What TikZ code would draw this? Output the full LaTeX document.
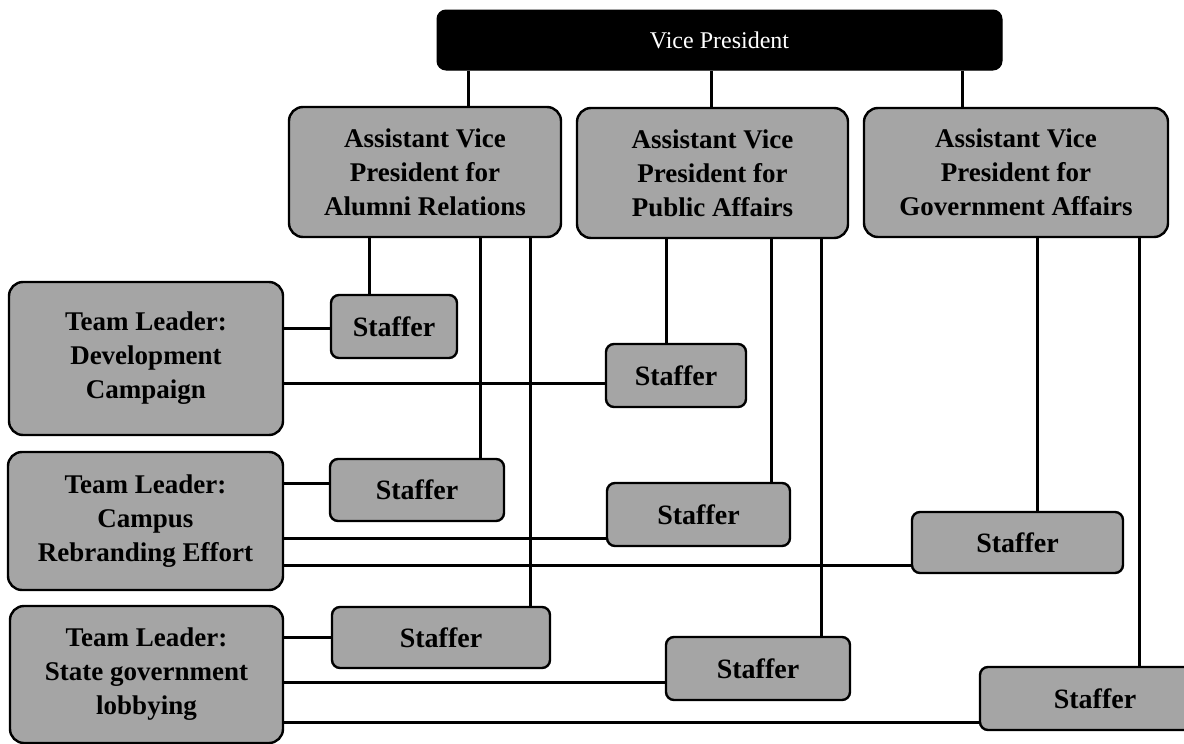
\documentclass[tikz,border=0pt]{standalone}
\usepackage{fontspec}
\setmainfont{Liberation Serif}
\definecolor{boxgray}{RGB}{165,165,165}
\begin{document}
\begin{tikzpicture}[x=1pt,y=-1pt,
  box/.style={draw=black, line width=2.4pt, fill=boxgray, rounded corners=14pt,
    align=center, inner sep=0pt, font=\fontsize{27}{34}\selectfont\bfseries},
  staffbox/.style={box, rounded corners=8pt, font=\fontsize{28}{34}\selectfont\bfseries},
  topbox/.style={draw=black, line width=1pt, fill=black, rounded corners=9pt,
    text=white, inner sep=0pt, font=\fontsize{24}{28}\selectfont},
  link/.style={line width=3pt, draw=black}
]
\useasboundingbox (0,0) rectangle (1184,744);
\clip (0,0) rectangle (1184,744);

% head of the division
\node[topbox, minimum width=565pt, minimum height=60pt] (vp) at (719.5,40) {Vice President};

% assistant vice presidents
\node[box, minimum width=272pt, minimum height=130pt] (avp1) at (425,172)
  {Assistant Vice\\President for\\Alumni Relations};
\node[box, minimum width=271pt, minimum height=130pt] (avp2) at (712.5,173)
  {Assistant Vice\\President for\\Public Affairs};
\node[box, minimum width=304pt, minimum height=129pt] (avp3) at (1016,172.5)
  {Assistant Vice\\President for\\Government Affairs};

% team leaders
\node[box, minimum width=274pt, minimum height=153pt] (tl1) at (146,358.5)
  {Team Leader:\\Development\\Campaign};
\node[box, minimum width=275pt, minimum height=138pt] (tl2) at (145.5,521)
  {Team Leader:\\Campus\\Rebranding Effort};
\node[box, minimum width=273pt, minimum height=137pt] (tl3) at (146.5,674.5)
  {Team Leader:\\State government\\lobbying};

% staffers
\node[staffbox, minimum width=126pt, minimum height=63pt] (s11) at (394,326.5) {Staffer};
\node[staffbox, minimum width=140pt, minimum height=63pt] (s12) at (676,375.5) {Staffer};
\node[staffbox, minimum width=174pt, minimum height=62pt] (s21) at (417,490) {Staffer};
\node[staffbox, minimum width=183pt, minimum height=63pt] (s22) at (698.5,514.5) {Staffer};
\node[staffbox, minimum width=211pt, minimum height=61pt] (s23) at (1017.5,542.5) {Staffer};
\node[staffbox, minimum width=218pt, minimum height=61pt] (s31) at (441,637.5) {Staffer};
\node[staffbox, minimum width=184pt, minimum height=63pt] (s32) at (758,668.5) {Staffer};
\node[staffbox, minimum width=230pt, minimum height=63pt] (s33) at (1095,698.5) {Staffer};

% columns of the vertical connectors
\coordinate (v1) at (468,0);
\coordinate (v2) at (711,0);
\coordinate (v3) at (962,0);
\coordinate (a1) at (369,0);
\coordinate (a2) at (480,0);
\coordinate (a3) at (530,0);
\coordinate (b1) at (666,0);
\coordinate (b2) at (771,0);
\coordinate (b3) at (821,0);
\coordinate (c1) at (1037,0);
\coordinate (c2) at (1139,0);

% rows of the horizontal connectors
\coordinate (h11) at (0,328);
\coordinate (h12) at (0,383);
\coordinate (h21) at (0,483);
\coordinate (h22) at (0,538);
\coordinate (h23) at (0,565);
\coordinate (h31) at (0,637);
\coordinate (h32) at (0,682);
\coordinate (h33) at (0,722);

% vice president to assistant vice presidents
\draw[link] (vp.south -| v1) -- (avp1.north -| v1);
\draw[link] (vp.south -| v2) -- (avp2.north -| v2);
\draw[link] (vp.south -| v3) -- (avp3.north -| v3);

% assistant vice presidents to staffers
\draw[link] (avp1.south -| a1) -- (s11.north -| a1);
\draw[link] (avp1.south -| a2) -- (s21.north -| a2);
\draw[link] (avp1.south -| a3) -- (s31.north -| a3);
\draw[link] (avp2.south -| b1) -- (s12.north -| b1);
\draw[link] (avp2.south -| b2) -- (s22.north -| b2);
\draw[link] (avp2.south -| b3) -- (s32.north -| b3);
\draw[link] (avp3.south -| c1) -- (s23.north -| c1);
\draw[link] (avp3.south -| c2) -- (s33.north -| c2);

% team leaders to staffers
\draw[link] (tl1.east |- h11) -- (s11.west |- h11);
\draw[link] (tl1.east |- h12) -- (s12.west |- h12);
\draw[link] (tl2.east |- h21) -- (s21.west |- h21);
\draw[link] (tl2.east |- h22) -- (s22.west |- h22);
\draw[link] (tl2.east |- h23) -- (s23.west |- h23);
\draw[link] (tl3.east |- h31) -- (s31.west |- h31);
\draw[link] (tl3.east |- h32) -- (s32.west |- h32);
\draw[link] (tl3.east |- h33) -- (s33.west |- h33);
\end{tikzpicture}
\end{document}
